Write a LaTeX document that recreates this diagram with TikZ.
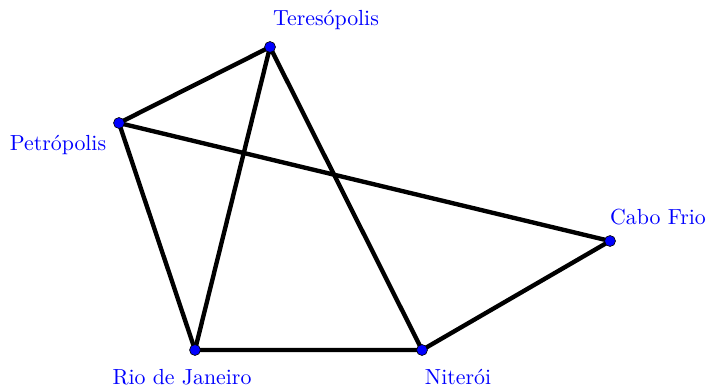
\documentclass[tikz,border=0pt]{standalone}
\begin{document}
\begin{tikzpicture}[x=0.0161cm, y=-0.0161cm, line join=round, line cap=round,
  dot/.style={circle, fill=blue, draw=black, line width=0.3pt, inner sep=0pt, minimum size=5pt},
  road/.style={line width=2pt, color=black},
  city/.style={text=blue, inner sep=0pt}]
  \useasboundingbox (0,0) rectangle (710,390);
  % cidades
  \coordinate (ter) at (270,47);
  \coordinate (pet) at (119,123);
  \coordinate (cab) at (610,241);
  \coordinate (rio) at (195,350);
  \coordinate (nit) at (422,350);
  % estradas
  \draw[road] (ter)--(pet) (ter)--(rio) (ter)--(nit);
  \draw[road] (pet)--(rio) (pet)--(cab);
  \draw[road] (rio)--(nit) (nit)--(cab);
  \foreach \c in {ter,pet,cab,rio,nit}
    \node[dot] at (\c) {};
  % nomes
  \node[city] (terL) at (326,20) {Teresópolis};
  \node[city] (petL) at (58,145) {Petrópolis};
  \node[city] (cabL) at (658,217) {Cabo Frio};
  \node[city] (rioL) at (182,377) {Rio de Janeiro};
  \node[city] (nitL) at (458,377) {Niterói};
\end{tikzpicture}
\end{document}
